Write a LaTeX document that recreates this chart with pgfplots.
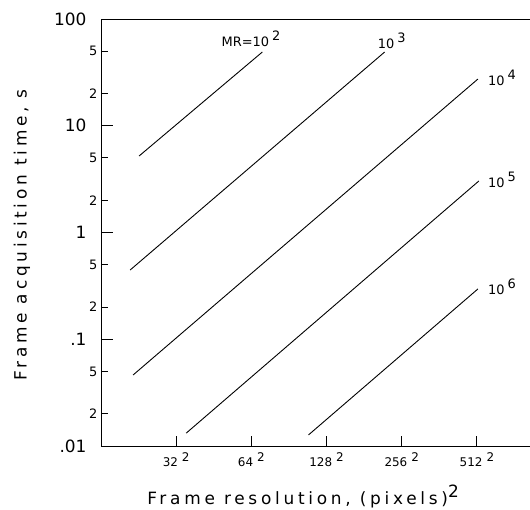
\documentclass[border=0pt]{standalone}
\usepackage{pgfplots}
\pgfplotsset{compat=1.18}
\usepackage{fontspec}
\setmainfont{DejaVu Sans}
\newfontfamily\plotfont{DejaVu Sans}[LetterSpace=22]

\newcommand{\sq}[1]{#1\hspace{4bp}\raisebox{5bp}{2}}
\newcommand{\pw}[1]{10\hspace{3bp}\raisebox{6bp}{#1}}

\begin{document}
\begin{tikzpicture}
\begin{axis}[
  xmode=log, ymode=log,
  scale only axis,
  width=429bp, height=427bp,
  xmin=256, xmax=698000,
  ymin=0.01, ymax=100,
  axis x line*=box, axis y line*=left,
  axis line style={-, line width=0.9bp},
  tick style={black, line width=0.9bp},
  tick align=inside,
  xtick pos=left, ytick pos=left,
  xminorticks=false, yminorticks=false,
  major tick length=7bp,
  xtick=\empty,
  extra x ticks={1024,4096,16384,65536,262144},
  extra x tick labels={\sq{32},\sq{64},\sq{128},\sq{256},\sq{512}},
  extra x tick style={major tick length=10bp},
  xticklabel style={font=\fontsize{12}{12}\selectfont, yshift=-3bp},
  ytick={0.02,0.05,0.2,0.5,2,5,20,50},
  yticklabels={2,5,2,5,2,5,2,5},
  yticklabel style={font=\fontsize{13}{13}\selectfont},
  extra y ticks={0.01,0.1,1,10,100},
  extra y tick labels={.01,.1,1,10,100},
  extra y tick style={major tick length=12bp,
    yticklabel style={font=\fontsize{17}{17}\selectfont, xshift=-11bp}},
  every axis x label/.style={at={(axis description cs:0.471,-0.138)}, anchor=base},
  every axis y label/.style={at={(axis description cs:-0.184,0.494)}, anchor=center, rotate=90},
  xlabel={\plotfont\fontsize{17}{17}\selectfont Frame resolution, (pixels)\raisebox{7bp}{2}},
  ylabel={\plotfont\fontsize{17}{17}\selectfont Frame acquisition time, s},
]
% MR = 10^2
\addplot[black, line width=0.9bp] coordinates {(517,5.21) (5020,49.1)};
% MR = 10^3
\addplot[black, line width=0.9bp] coordinates {(438,0.445) (47870,49.1)};
% MR = 10^4
\addplot[black, line width=0.9bp] coordinates {(463,0.0463) (267100,27.4)};
% MR = 10^5
\addplot[black, line width=0.9bp] coordinates {(1232,0.0132) (272000,3.04)};
% MR = 10^6
\addplot[black, line width=0.9bp] coordinates {(11750,0.0127) (267100,0.296)};

\begin{scope}[every node/.style={font=\fontsize{13}{13}\selectfont, anchor=base west, inner sep=0pt}]
\node[xshift=-41bp, yshift=5bp] at (axis cs:5020,49.1) {MR=\pw{2}};
\node[xshift=-7bp, yshift=3bp] at (axis cs:47870,49.1) {\pw{3}};
\node[xshift=10bp, yshift=-6bp] at (axis cs:267100,27.4) {\pw{4}};
\node[xshift=9bp, yshift=-7bp] at (axis cs:272000,3.04) {\pw{5}};
\node[xshift=10bp, yshift=-6bp] at (axis cs:267100,0.296) {\pw{6}};
\end{scope}
\end{axis}
\pgfresetboundingbox
\path[use as bounding box] ([xshift=-101bp,yshift=-64bp]current axis.south west) rectangle ([yshift=19bp]current axis.north east);
\end{tikzpicture}
\end{document}
